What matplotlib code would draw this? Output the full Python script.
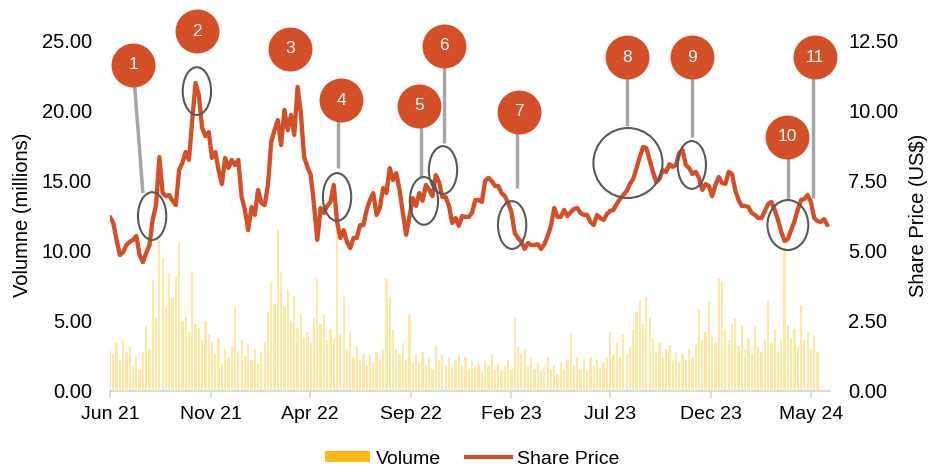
# plot.py - share price vs trading volume, with numbered event markers

import matplotlib
matplotlib.use("Agg")
import matplotlib.pyplot as plt
import matplotlib.dates as mdates
from matplotlib.patches import Ellipse, Patch
from matplotlib.lines import Line2D
import pandas as pd

plt.rcParams["font.family"] = ["Liberation Sans", "DejaVu Sans"]

# ── data (one value every 5 days) ────────────────────────────────────────────
START_DATE = "2021-06-01"

share_price = [
    6.20, 5.98, 5.38, 4.84, 4.95, 5.20, 5.31, 5.38, 5.52, 4.84,
    4.59, 4.91, 5.20, 6.12, 6.62, 8.33, 7.05, 6.94, 6.98, 6.77,
    6.62, 7.87, 8.12, 8.51, 8.23, 9.65, 10.97, 10.54, 9.37, 9.08,
    9.22, 8.30, 8.51, 7.87, 7.37, 8.30, 7.94, 8.23, 8.05, 8.23,
    6.91, 6.45, 5.73, 6.55, 6.27, 7.16, 6.69, 6.62, 7.34, 8.87,
    9.29, 9.65, 8.76, 10.01, 9.29, 9.83, 9.12, 10.83, 9.90, 8.33,
    7.98, 7.69, 6.62, 5.38, 6.52, 6.34, 6.59, 6.73, 7.34, 6.02,
    5.45, 5.73, 5.31, 5.09, 5.45, 5.45, 5.91, 5.91, 6.45, 6.80,
    7.05, 6.27, 6.52, 7.23, 7.05, 7.94, 7.51, 7.76, 7.16, 6.34,
    5.56, 6.20, 6.87, 6.59, 7.05, 6.77, 7.34, 7.16, 6.94, 7.69,
    7.44, 6.91, 6.91, 6.59, 5.98, 6.16, 5.88, 6.23, 6.20, 6.20,
    6.34, 6.80, 6.80, 6.73, 7.48, 7.59, 7.48, 7.30, 7.30, 7.05,
    6.94, 6.69, 6.37, 5.63, 5.45, 5.31, 5.06, 5.27, 5.20, 5.20,
    5.23, 5.06, 5.23, 5.52, 5.88, 6.52, 6.20, 6.20, 6.45, 6.23,
    6.37, 6.48, 6.52, 6.34, 6.27, 6.27, 6.02, 5.91, 6.27, 6.16,
    6.09, 6.30, 6.41, 6.45, 6.66, 6.84, 6.98, 7.12, 7.37, 7.55,
    7.94, 8.33, 8.69, 8.65, 8.23, 7.80, 7.44, 7.55, 7.87, 7.80,
    8.08, 7.98, 8.05, 8.48, 8.58, 8.05, 7.94, 7.73, 7.80, 7.59,
    7.16, 7.37, 7.30, 6.94, 7.34, 7.62, 7.41, 7.37, 7.80, 7.73,
    7.16, 6.80, 6.59, 6.59, 6.55, 6.34, 6.27, 6.16, 6.16, 6.41,
    6.66, 6.73, 6.45, 6.09, 5.66, 5.34, 5.41, 5.73, 6.05, 6.45,
    6.80, 6.84, 6.98, 6.73, 6.16, 6.05, 6.02, 6.12, 5.91,
]

volume_m = [
    3.0, 2.6, 3.4, 2.2, 3.6, 2.8, 3.2, 1.8, 2.4, 1.6,
    2.8, 4.6, 3.0, 7.9, 5.2, 10.8, 9.5, 6.0, 8.4, 6.7,
    8.1, 10.6, 5.0, 5.3, 4.2, 8.5, 4.8, 4.5, 3.6, 5.0,
    4.0, 3.5, 2.6, 3.8, 2.0, 3.0, 2.4, 3.2, 6.0, 2.8,
    3.6, 2.5, 3.4, 2.2, 3.0, 1.9, 2.8, 3.5, 5.6, 7.7,
    6.2, 11.5, 8.5, 6.0, 7.2, 5.0, 6.8, 4.5, 5.5, 3.8,
    4.2, 3.4, 5.2, 8.0, 4.8, 5.5, 3.6, 4.4, 3.8, 12.5,
    4.0, 6.7, 3.0, 4.2, 2.4, 3.2, 2.2, 2.6, 1.8, 2.6,
    2.0, 2.8, 2.2, 3.0, 8.0, 6.7, 4.4, 3.0, 2.6, 3.4,
    2.2, 5.4, 2.0, 2.6, 2.0, 2.8, 1.8, 2.4, 1.6, 3.3,
    2.2, 2.6, 1.8, 2.4, 1.7, 2.2, 2.6, 1.8, 2.4, 1.6,
    2.2, 1.8, 2.0, 1.4, 2.2, 1.8, 2.6, 1.6, 2.0, 1.4,
    1.8, 2.2, 1.6, 5.2, 3.2, 2.6, 3.0, 1.8, 2.4, 1.6,
    2.0, 1.4, 1.8, 2.4, 1.6, 1.8, 1.2, 2.0, 1.6, 2.2,
    4.1, 1.8, 2.4, 1.6, 2.2, 1.4, 2.4, 1.8, 2.2, 1.6,
    2.0, 2.4, 4.2, 2.6, 3.4, 2.4, 4.0, 2.6, 3.2, 4.4,
    5.6, 6.5, 4.8, 6.7, 5.2, 3.8, 2.8, 3.4, 2.4, 3.0,
    3.3, 2.2, 2.8, 2.0, 2.6, 2.2, 3.0, 2.4, 3.4, 5.8,
    3.6, 4.2, 6.4, 4.0, 3.4, 8.0, 7.8, 4.4, 3.6, 4.8,
    5.1, 3.2, 4.6, 3.0, 3.8, 2.6, 4.6, 3.2, 2.8, 3.6,
    6.5, 3.4, 4.4, 2.8, 3.6, 10.2, 4.7, 3.8, 4.4, 3.2,
    6.1, 3.6, 4.2, 3.0, 4.0, 2.8,
]

tick_dates = ["2021-06-01", "2021-11-01", "2022-04-01", "2022-09-01",
              "2023-02-01", "2023-07-01", "2023-12-01", "2024-05-01"]

# events: number, badge (date, price), connector end (date, price) or None,
# ring (date, price) or None
event_ids = [1, 2, 3, 4, 5, 6, 7, 8, 9, 10, 11]
badge_dates = ["2021-07-06", "2021-10-11", "2022-03-02", "2022-05-18", "2022-09-14",
               "2022-10-22", "2023-02-13", "2023-07-27", "2023-11-02", "2024-03-26",
               "2024-05-07"]
badge_prices = [11.61, 12.82, 12.18, 10.36, 10.15, 12.29, 9.94, 11.89, 11.89, 9.05, 11.89]
stem_dates = ["2021-07-21", None, None, "2022-05-13", "2022-09-17", "2022-10-22",
              "2023-02-10", "2023-07-27", "2023-11-03", "2024-03-27", "2024-05-04"]
stem_prices = [7.05, None, None, 7.94, 7.62, 8.83, 7.23, 9.44, 9.05, 6.80, 6.87]
ring_dates = ["2021-08-04", "2021-10-11", None, "2022-05-12", "2022-09-21",
              "2022-10-20", "2023-02-02", "2023-07-28", "2023-11-02", "2024-03-27", None]
ring_prices = [6.23, 10.68, None, 6.91, 6.77, 7.87, 5.91, 8.12, 8.05, 5.91, None]

# ── colours ──────────────────────────────────────────────────────────────────
RED = "#D24F27"
BAR = "#FFC000"
GREY_AXIS = "#D9D9D9"

dates = pd.date_range(START_DATE, periods=len(share_price), freq="5D")

fig = plt.figure(figsize=(9.35, 4.67), dpi=100)
ax = fig.add_axes([110 / 935, 1 - 391 / 467, 720 / 935, 351 / 467])
ax2 = ax.twinx()

ax.bar(dates[:len(volume_m)], volume_m, width=3.4, color=BAR, alpha=0.36, linewidth=0)
ax2.plot(dates, share_price, color=RED, lw=3.1, solid_joinstyle="round",
         solid_capstyle="round", zorder=3)

# ── events ───────────────────────────────────────────────────────────────────
for i, n in enumerate(event_ids):
    bx = mdates.date2num(pd.Timestamp(badge_dates[i]))
    if stem_dates[i] is not None:
        sx = mdates.date2num(pd.Timestamp(stem_dates[i]))
        ax2.plot([bx if n == 1 else sx, sx], [badge_prices[i], stem_prices[i]],
                 color="#A6A6A6", lw=2.5, solid_capstyle="butt", zorder=4, clip_on=False)
    if ring_dates[i] is not None:
        rx = mdates.date2num(pd.Timestamp(ring_dates[i]))
        if n == 8:
            w, h = 105, 2.49
        elif n == 10:
            w, h = 62, 1.78
        else:
            w, h = 43, 1.70
        ax2.add_patch(Ellipse((rx, ring_prices[i]), w, h, fill=False,
                              edgecolor="#595959", lw=1.5, zorder=6))
    ax2.scatter([bx], [badge_prices[i]], s=1000, color=RED, zorder=7,
                clip_on=False, linewidths=0)
    ax2.text(bx, badge_prices[i], str(n), color="white", fontsize=12.5,
             ha="center", va="center", zorder=8)

# ── axes styling ─────────────────────────────────────────────────────────────
ax.set_xlim(pd.Timestamp(START_DATE), pd.Timestamp("2024-05-30"))
ax.set_ylim(0, 25)
ax2.set_ylim(0, 12.5)
ax.set_yticks([0, 5, 10, 15, 20, 25])
ax2.set_yticks([0, 2.5, 5, 7.5, 10, 12.5])
ax.yaxis.set_major_formatter(plt.FuncFormatter(lambda v, _: f"{v:.2f}"))
ax2.yaxis.set_major_formatter(plt.FuncFormatter(lambda v, _: f"{v:.2f}"))
ax.set_xticks([pd.Timestamp(d) for d in tick_dates])
ax.xaxis.set_major_formatter(mdates.DateFormatter("%b %y"))

for a in (ax, ax2):
    for s in a.spines.values():
        s.set_visible(False)
ax.spines["bottom"].set_visible(True)
ax.spines["bottom"].set_color(GREY_AXIS)
ax.spines["bottom"].set_linewidth(1.3)

ax.tick_params(axis="x", length=5, width=1.3, color=GREY_AXIS, pad=6, labelsize=14)
ax.tick_params(axis="y", length=0, pad=13, labelsize=14.5)
ax2.tick_params(axis="y", length=0, pad=13, labelsize=14.5)

fig.text(23 / 935, 1 - 215 / 467, "Volumne (millions)", rotation=90,
         ha="center", va="center", fontsize=14.5)
fig.text(919 / 935, 1 - 215 / 467, "Share Price (US$)", rotation=90,
         ha="center", va="center", fontsize=14.5)

handles = [Patch(facecolor="#FFB81C", edgecolor="none"),
           Line2D([], [], color=RED, lw=3)]
fig.legend(handles, ["Volume", "Share Price"], loc="center",
           bbox_to_anchor=(0.505, 1 - 459 / 467), ncol=2, frameon=False,
           fontsize=14, handlelength=2.3, handleheight=0.55,
           handletextpad=0.3, columnspacing=1.3)

fig.savefig("out.png", dpi=100)
